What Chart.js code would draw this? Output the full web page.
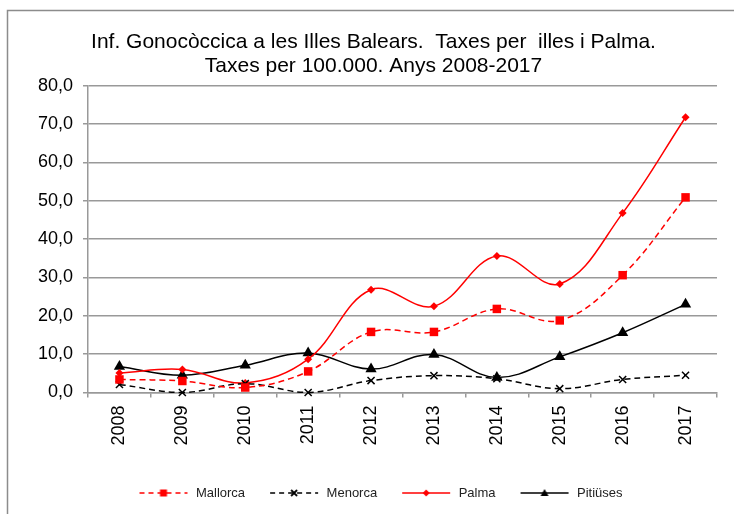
<!DOCTYPE html>
<html>
<head>
<meta charset="utf-8">
<script src="https://cdn.jsdelivr.net/npm/chart.js@4.4.1/dist/chart.umd.min.js"></script>
<style>
  html, body { margin: 0; padding: 0; background: #fff; }
  #wrap { width: 734px; height: 514px; }
</style>
</head>
<body>
<div id="wrap"><canvas id="chart" width="734" height="514"></canvas></div>
<script>
const years = ['2008', '2009', '2010', '2011', '2012', '2013', '2014', '2015', '2016', '2017'];
const mallorca = [3.4, 3.0, 1.3, 5.5, 15.8, 15.8, 21.8, 18.8, 30.6, 50.9];
const menorca = [2.1, 0.0, 2.3, 0.0, 3.1, 4.4, 3.6, 1.0, 3.4, 4.5];
const palma = [5.1, 6.0, 2.5, 8.7, 26.8, 22.5, 35.6, 28.3, 46.8, 71.8];
const pitiuses = [6.8, 4.5, 7.1, 10.3, 6.1, 9.9, 3.9, 9.3, 15.6, 23.0];
const titleLines = ['Inf. Gonocòccica a les Illes Balears.  Taxes per  illes i Palma.', 'Taxes per 100.000. Anys 2008-2017'];

const font = "'Liberation Sans', Arial, sans-serif";

// legend icon: short line + marker, drawn on a small canvas
function legendIcon(color, dash, marker) {
    const c = document.createElement('canvas');
    c.width = 65;
    c.height = 12;
    const g = c.getContext('2d');
    g.strokeStyle = color;
    g.fillStyle = color;
    g.lineWidth = 1.5;
    g.setLineDash(dash);
    g.beginPath();
    g.moveTo(15, 6);
    g.lineTo(63, 6);
    g.stroke();
    g.setLineDash([]);
    const cx = 39, cy = 6;
    if (marker === 'rect') {
        g.fillRect(cx - 3.5, cy - 3.5, 7, 7);
    } else if (marker === 'cross') {
        g.lineWidth = 1.8;
        g.beginPath();
        g.moveTo(cx - 3, cy - 3); g.lineTo(cx + 3, cy + 3);
        g.moveTo(cx + 3, cy - 3); g.lineTo(cx - 3, cy + 3);
        g.stroke();
    } else if (marker === 'diamond') {
        g.beginPath();
        g.moveTo(cx, cy - 3.5); g.lineTo(cx + 3.5, cy); g.lineTo(cx, cy + 3.5); g.lineTo(cx - 3.5, cy);
        g.closePath();
        g.fill();
    } else if (marker === 'triangle') {
        g.beginPath();
        g.moveTo(cx, cy - 4); g.lineTo(cx + 4, cy + 3); g.lineTo(cx - 4, cy + 3);
        g.closePath();
        g.fill();
    }
    return c;
}

const icons = [
    legendIcon('#ff0000', [5, 4], 'rect'),
    legendIcon('#000000', [5, 4], 'cross'),
    legendIcon('#ff0000', [], 'diamond'),
    legendIcon('#000000', [], 'triangle')
];

const frame = {
    id: 'frame',
    beforeDraw(chart) {
        const c = chart.ctx;
        c.save();
        c.fillStyle = '#fff';
        c.fillRect(0, 0, chart.width, chart.height);
        c.strokeStyle = '#8c8c8c';
        c.lineWidth = 1.5;
        c.beginPath();
        c.moveTo(7.5, chart.height);
        c.lineTo(7.5, 10.5);
        c.lineTo(chart.width, 10.5);
        c.stroke();
        c.restore();
    }
};

const ctx = document.getElementById('chart').getContext('2d');
new Chart(ctx, {
    type: 'line',
    data: {
        labels: years,
        datasets: [{
            label: 'Mallorca',
            data: mallorca,
            borderColor: '#ff0000',
            backgroundColor: '#ff0000',
            borderWidth: 1.5,
            borderDash: [6, 4],
            pointStyle: 'rect',
            pointRadius: 6,
            pointBorderWidth: 0
        }, {
            label: 'Menorca',
            data: menorca,
            borderColor: '#000000',
            backgroundColor: '#000000',
            borderWidth: 1.5,
            borderDash: [6, 4],
            pointStyle: 'crossRot',
            pointRadius: 5,
            pointBorderWidth: 1.5
        }, {
            label: 'Palma',
            data: palma,
            borderColor: '#ff0000',
            backgroundColor: '#ff0000',
            borderWidth: 1.5,
            pointStyle: 'rectRot',
            pointRadius: 4,
            pointBorderWidth: 0
        }, {
            label: 'Pitiüses',
            data: pitiuses,
            borderColor: '#000000',
            backgroundColor: '#000000',
            borderWidth: 1.5,
            pointStyle: 'triangle',
            pointRadius: 6.5,
            pointBorderWidth: 0
        }]
    },
    options: {
        responsive: false,
        animation: false,
        clip: false,
        layout: {
            padding: { top: 10, left: 30, right: 17, bottom: 4.5 }
        },
        elements: {
            line: { tension: 0.38, fill: false }
        },
        plugins: {
            title: {
                display: true,
                text: titleLines,
                color: '#000',
                font: { family: font, size: 21, weight: 'normal', lineHeight: 1.15 },
                padding: { top: 20, bottom: 7.5 }
            },
            legend: {
                position: 'bottom',
                labels: {
                    usePointStyle: true,
                    pointStyleWidth: 65,
                    padding: 10,
                    color: '#222',
                    font: { family: font, size: 13 },
                    generateLabels(chart) {
                        const items = Chart.defaults.plugins.legend.labels.generateLabels(chart);
                        items.forEach((item, i) => { item.pointStyle = icons[i]; });
                        return items;
                    }
                }
            },
            tooltip: { enabled: false }
        },
        scales: {
            x: {
                offset: true,
                border: { color: '#999', width: 1.5 },
                grid: { drawOnChartArea: false, drawTicks: true, tickLength: 5, color: '#999', lineWidth: 1.5, offset: true },
                ticks: {
                    color: '#000',
                    font: { family: font, size: 18 },
                    minRotation: 90,
                    maxRotation: 90,
                    padding: 8
                },
                afterFit(scale) { scale.height = 84; }
            },
            y: {
                min: 0,
                max: 80,
                border: { color: '#999', width: 1.5 },
                grid: { color: '#999', lineWidth: 1.5, tickLength: 5 },
                ticks: {
                    stepSize: 10,
                    color: '#000',
                    padding: 10,
                    font: { family: font, size: 18 },
                    callback: value => value.toFixed(1).replace('.', ',')
                },
                afterFit(scale) { scale.width = 58; }
            }
        }
    },
    plugins: [frame]
});
</script>
</body>
</html>
